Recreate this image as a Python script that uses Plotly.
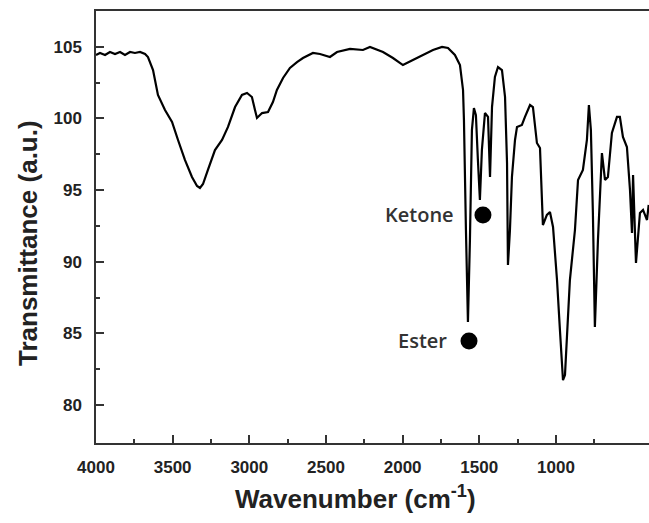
import plotly.graph_objects as go

wavenumber = [4000, 3974, 3941, 3909, 3876, 3843, 3811, 3778, 3746, 3713, 3680, 3661, 3628, 3596,
              3550, 3504, 3465, 3420, 3374, 3341, 3322, 3302, 3270, 3224, 3178, 3139, 3093, 3048,
              3015, 2983, 2963, 2950, 2917, 2878, 2846, 2820, 2780, 2735, 2689, 2650, 2585, 2539,
              2474, 2428, 2343, 2259, 2213, 2128, 2063, 1998, 1933, 1867, 1802, 1743, 1704, 1659,
              1626, 1606, 1600, 1587, 1574, 1561, 1548, 1535, 1522, 1509, 1496, 1483, 1463, 1443,
              1430, 1417, 1398, 1378, 1352, 1332, 1319, 1313, 1300, 1287, 1267, 1254, 1222, 1202,
              1169, 1150, 1124, 1104, 1091, 1085, 1059, 1039, 1019, 993, 974, 954, 941, 928, 909,
              876, 856, 824, 798, 785, 772, 759, 746, 726, 700, 680, 661, 635, 602, 583, 563, 537,
              517, 504, 497, 478, 452, 432, 406, 395]
transmittance = [104.42, 104.56, 104.42, 104.63, 104.49, 104.63, 104.42, 104.63, 104.56, 104.63,
                 104.49, 104.28, 103.37, 101.63, 100.58, 99.75, 98.49, 97.10, 95.91, 95.28, 95.14,
                 95.42, 96.40, 97.79, 98.49, 99.40, 100.79, 101.63, 101.77, 101.49, 100.58, 100.03,
                 100.37, 100.44, 101.14, 101.98, 102.82, 103.52, 103.93, 104.21, 104.56, 104.49,
                 104.28, 104.63, 104.84, 104.77, 104.98, 104.63, 104.21, 103.72, 104.07, 104.42,
                 104.77, 104.98, 104.91, 104.42, 103.72, 101.98, 99.89, 92.21, 85.79, 91.51, 99.19,
                 100.72, 100.23, 97.10, 94.30, 97.79, 100.37, 100.10, 95.91, 100.79, 102.89, 103.58,
                 103.37, 101.49, 96.89, 89.77, 92.21, 95.91, 98.49, 99.40, 99.54, 100.10, 100.93,
                 100.79, 98.28, 97.93, 93.61, 92.56, 93.26, 93.47, 92.42, 88.72, 85.23, 81.74, 82.09,
                 85.23, 88.72, 92.21, 95.70, 96.40, 98.49, 100.93, 99.19, 93.40, 85.44, 91.51, 97.58,
                 95.70, 95.91, 98.98, 100.10, 100.10, 98.70, 98.00, 95.00, 92.00, 96.05, 89.91,
                 93.40, 93.61, 92.91, 93.96]

marker_labels = ["Ketone", "Ester"]
marker_x = [1476, 1567]
marker_y = [93.26, 84.47]
label_shift = [-27, -20]

x_ticks = [4000, 3500, 3000, 2500, 2000, 1500, 1000]
y_ticks = [80, 85, 90, 95, 100, 105]

fig = go.Figure()
fig.add_trace(go.Scatter(x=wavenumber, y=transmittance, mode="lines",
                         line=dict(color="black", width=2.2), showlegend=False))
fig.add_trace(go.Scatter(x=marker_x, y=marker_y, mode="markers",
                         marker=dict(color="black", size=17), showlegend=False))
for lab, mx, my, sh in zip(marker_labels, marker_x, marker_y, label_shift):
    fig.add_annotation(x=mx, y=my, text=lab, showarrow=False, xanchor="right",
                       xshift=sh, font=dict(family="Open Sans", size=20, color="#333", weight=600))

tickfont = dict(family="Liberation Sans, Arial", size=17, color="#222", weight="bold")
fig.update_xaxes(range=[4000, 393], tickvals=x_ticks, ticks="inside", ticklen=8, tickwidth=1.5,
                 tickcolor="#333", showline=True, linecolor="#333", linewidth=1.5, mirror=True,
                 showgrid=False, zeroline=False, tickfont=tickfont, ticklabelstandoff=8,
                 minor=dict(tickvals=[3750, 3250, 2750, 2250, 1750, 1250, 750], ticks="inside",
                            ticklen=4, tickwidth=1.5, tickcolor="#333"))
fig.update_yaxes(range=[77.35, 107.49], tickvals=y_ticks, ticks="inside", ticklen=8, tickwidth=1.5,
                 tickcolor="#333", showline=True, linecolor="#333", linewidth=1.5, mirror=False,
                 showgrid=False, zeroline=False, tickfont=tickfont, ticklabelstandoff=9,
                 minor=dict(tickvals=[82.5, 87.5, 92.5, 97.5, 102.5], ticks="inside",
                            ticklen=4, tickwidth=1.5, tickcolor="#333"))

titlefont = dict(family="Liberation Sans, Arial", size=26, color="#222", weight="bold")
fig.add_annotation(xref="paper", yref="paper", x=(28 - 96) / 553, y=(443 - 243) / 432,
                   text="Transmittance (a.u.)", textangle=-90, showarrow=False,
                   xanchor="center", yanchor="middle", font=titlefont)
fig.add_annotation(xref="paper", yref="paper", x=(355 - 96) / 553, y=-(497 - 443) / 432,
                   text="Wavenumber (cm<sup>-1</sup>)", showarrow=False,
                   xanchor="center", yanchor="middle", font=titlefont)

fig.update_layout(width=649, height=523, margin=dict(l=96, r=0, t=11, b=80),
                  plot_bgcolor="white", paper_bgcolor="white")
fig.write_html("out.html")
